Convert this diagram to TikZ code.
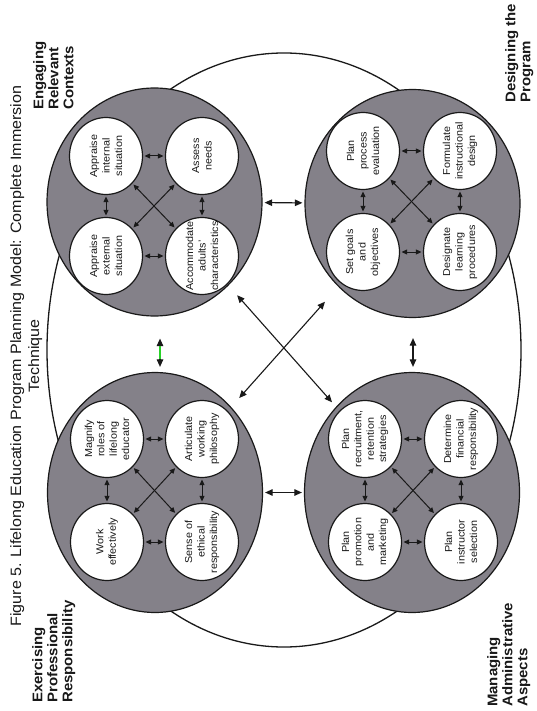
\documentclass[tikz,border=0pt]{standalone}
\usepackage{fontspec}
\setmainfont{Liberation Sans}[FakeStretch=1.07]
\usetikzlibrary{arrows.meta,shapes.geometric,calc}
\definecolor{grayfill}{RGB}{132,129,137}
\definecolor{linecol}{RGB}{25,25,25}
\definecolor{greenline}{RGB}{40,210,40}
\newcommand\mysmallcirc[3]{%
  \node[smallc] (#1) at (#2) {};
  \node[ctext] (#1t) at (#1) {#3};}
\begin{document}
\begin{tikzpicture}[x=1pt,y=-1pt,
  bigc/.style={ellipse, draw=linecol, line width=1.2pt, fill=grayfill, inner sep=0pt, minimum width=215pt},
  smallc/.style={ellipse, draw=linecol, line width=1.2pt, fill=white, inner sep=0pt,
     minimum width=73pt, minimum height=77pt},
  ctext/.style={rotate=90, inner sep=0pt, align=center, text=linecol,
     font=\fontsize{10.1}{12.4}\selectfont},
  sarr/.style={{Triangle[length=5.5pt,width=5pt]}-{Triangle[length=5.5pt,width=5pt]}, draw=linecol, line width=1pt, shorten <=1.5pt, shorten >=1.5pt},
  barr/.style={{Triangle[length=7.5pt,width=6.5pt]}-{Triangle[length=7.5pt,width=6.5pt]}, draw=linecol, line width=1.1pt},
  outerline/.style={draw=linecol, line width=1.3pt},
  ttlstyle/.style={rotate=90, align=center, inner sep=0pt, text=linecol, font=\fontsize{15}{18}\selectfont, anchor=north},
  cornerlab/.style={rotate=90, align=left, inner sep=0pt, text=linecol, font=\bfseries\fontsize{14}{15}\selectfont, anchor=north west}
]
\useasboundingbox (0,0) rectangle (537,711);
\fill[white] (0,0) rectangle (537,711);

% outer ring
\draw[outerline] (284,350) ellipse [x radius=237pt, y radius=297pt];

% big circles
\node[bigc, minimum height=228pt] (eng) at (154.5,202) {};
\node[bigc, minimum height=228pt] (des) at (412.5,203.5) {};
\node[bigc, minimum height=240pt] (exe) at (155,492.5) {};
\node[bigc, minimum height=240pt] (man) at (412,492.5) {};

% arrows between big circles
\draw[barr, shorten <=2pt, shorten >=2pt] (eng) -- (des);
\draw[barr, shorten <=2pt, shorten >=2pt] (exe) -- (man);
\draw[barr, shorten <=22pt, shorten >=5pt] ([xshift=5.5pt]eng.south) -- ([xshift=5pt]exe.north);
\draw[barr, shorten <=20pt, shorten >=5pt] ([xshift=0.5pt]des.south) -- ([xshift=1pt]man.north);
\draw[greenline, line width=1.3pt] ([xshift=5.5pt, yshift=-29pt]eng.south) -- ++(0,13);
\draw[barr, shorten <=12pt, shorten >=20pt] (exe) -- (des);
\draw[barr, shorten <=13pt, shorten >=6pt] (eng) -- (man);

% Engaging Relevant Contexts
\mysmallcirc{e1}{106,156}{Appraise\\internal\\situation}
\mysmallcirc{e2}{202,156}{Assess\\needs}
\mysmallcirc{e3}{106,256}{Appraise\\external\\situation}
\mysmallcirc{e4}{202,256}{Accommodate\\adults'\\characteristics}

% Designing the Program
\mysmallcirc{d1}{363,151}{Plan\\process\\evaluation}
\mysmallcirc{d2}{460,151}{Formulate\\instructional\\design}
\mysmallcirc{d3}{363,252}{Set goals\\and\\objectives}
\mysmallcirc{d4}{460,252}{Designate\\learning\\procedures}

% Exercising Professional Responsibility
\mysmallcirc{x1}{107,439}{Magnify\\roles of\\lifelong\\educator}
\mysmallcirc{x2}{202,439}{Articulate\\working\\philosophy}
\mysmallcirc{x3}{107,542}{Work\\effectively}
\mysmallcirc{x4}{202,542}{Sense of\\ethical\\responsibility}

% Managing Administrative Aspects
\mysmallcirc{m1}{365,439}{Plan\\recruitment,\\retention\\strategies}
\mysmallcirc{m2}{461,439}{Determine\\financial\\responsibility}
\mysmallcirc{m3}{365,542}{Plan\\promotion\\and\\marketing}
\mysmallcirc{m4}{461,542}{Plan\\instructor\\selection}

% arrows inside circles
\foreach \g in {e,d,x,m}{
  \draw[sarr] (\g1) -- (\g2);
  \draw[sarr] (\g3) -- (\g4);
  \draw[sarr] (\g1) -- (\g3);
  \draw[sarr] (\g2) -- (\g4);
  \draw[sarr] (\g1) -- (\g4);
  \draw[sarr] (\g2) -- (\g3);
}

% title and labels
\node[ttlstyle] (ttl) at (10,356) {Figure 5. Lifelong Education Program Planning Model: Complete Immersion\\Technique};
\node[cornerlab] (lab1) at (33,110) {Engaging\\Relevant\\Contexts};
\node[cornerlab] (lab2) at (505,103) {Designing the\\Program};
\node[cornerlab] (lab3) at (32,703) {Exercising\\Professional\\Responsibility};
\node[cornerlab] (lab4) at (487,707) {Managing\\Administrative\\Aspects};
\end{tikzpicture}
\end{document}
